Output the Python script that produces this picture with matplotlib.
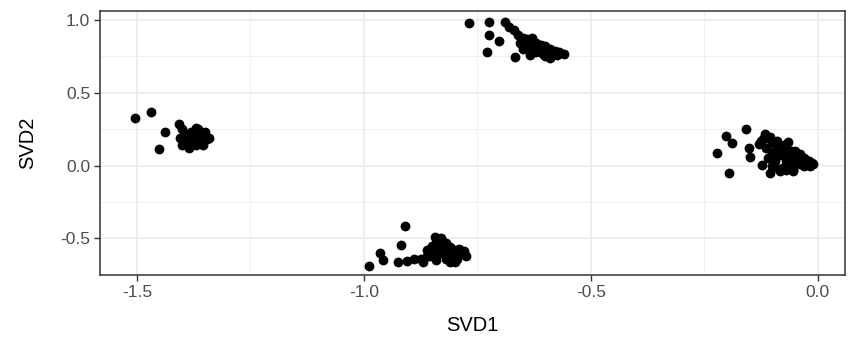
import matplotlib
matplotlib.use("Agg")
import matplotlib.pyplot as plt
import numpy as np

plt.rcParams['font.family'] = ['Liberation Sans', 'DejaVu Sans']

# cluster coordinates
left_x = [-1.505, -1.468, -1.438, -1.451, -1.407, -1.40, -1.395, -1.39, -1.385, -1.38, -1.375, -1.37,
          -1.365, -1.36, -1.355, -1.35, -1.345, -1.40, -1.385, -1.37, -1.36, -1.395, -1.38,
          -1.405, -1.39, -1.375, -1.365, -1.35, -1.34, -1.355, -1.37]
left_y = [0.324, 0.368, 0.23, 0.117, 0.287, 0.25, 0.21, 0.16, 0.13, 0.20, 0.17, 0.22,
          0.25, 0.19, 0.16, 0.20, 0.18, 0.14, 0.12, 0.14, 0.22, 0.19, 0.23,
          0.19, 0.18, 0.15, 0.17, 0.23, 0.19, 0.14, 0.26]

bottom_x = [-0.988, -0.965, -0.957, -0.910, -0.918, -0.925, -0.905, -0.89, -0.875, -0.86, -0.85, -0.844,
            -0.83, -0.82, -0.81, -0.80, -0.79, -0.78, -0.85, -0.84, -0.82, -0.80, -0.785, -0.86,
            -0.83, -0.81, -0.795, -0.87, -0.835, -0.815, -0.80, -0.855, -0.775, -0.84, -0.825]
bottom_y = [-0.687, -0.598, -0.648, -0.418, -0.545, -0.665, -0.655, -0.645, -0.64, -0.62, -0.55, -0.49,
            -0.50, -0.53, -0.56, -0.58, -0.57, -0.59, -0.60, -0.65, -0.64, -0.62, -0.60, -0.58,
            -0.60, -0.66, -0.64, -0.66, -0.57, -0.60, -0.66, -0.62, -0.62, -0.53, -0.55]

top_x = [-0.768, -0.724, -0.724, -0.728, -0.702, -0.689, -0.68, -0.67, -0.66, -0.65, -0.64, -0.63,
         -0.62, -0.61, -0.60, -0.59, -0.58, -0.57, -0.56, -0.667, -0.59, -0.65, -0.635, -0.62,
         -0.60, -0.64, -0.61, -0.655, -0.625, -0.605, -0.585, -0.645, -0.63, -0.575]
top_y = [0.977, 0.99, 0.90, 0.784, 0.857, 0.99, 0.95, 0.93, 0.90, 0.88, 0.87, 0.85,
         0.84, 0.83, 0.82, 0.80, 0.79, 0.78, 0.77, 0.745, 0.74, 0.80, 0.76, 0.78,
         0.75, 0.82, 0.80, 0.84, 0.81, 0.77, 0.76, 0.86, 0.88, 0.76]

right_x = [-0.159, -0.203, -0.19, -0.222, -0.195, -0.151, -0.15, -0.117, -0.125, -0.11, -0.10, -0.09,
           -0.08, -0.07, -0.06, -0.05, -0.04, -0.03, -0.02, -0.01, -0.124, -0.106, -0.084, -0.055,
           -0.018, -0.10, -0.085, -0.07, -0.06, -0.045, -0.03, -0.115, -0.095, -0.075, -0.05,
           -0.035, -0.02, -0.13, -0.105, -0.09, -0.075, -0.065, -0.11, -0.095, -0.08, -0.065,
           -0.05, -0.04, -0.12, -0.1, -0.085, -0.07, -0.055, -0.04, -0.025, -0.012]
right_y = [0.255, 0.202, 0.156, 0.087, -0.05, 0.122, 0.057, 0.218, 0.17, 0.19, 0.16, 0.15,
           0.13, 0.12, 0.10, 0.08, 0.06, 0.05, 0.03, 0.01, 0.007, -0.05, -0.04, -0.04,
           0.0, 0.09, 0.07, 0.04, 0.01, 0.02, 0.0, 0.12, 0.03, -0.01, 0.06, 0.03, 0.02, 0.15,
           0.20, 0.17, 0.14, 0.16, 0.05, 0.11, 0.10, 0.08, 0.10, 0.08, 0.18, 0.0, -0.02, -0.03,
           -0.03, 0.01, 0.04, 0.02]

x_ticks = [-1.5, -1.0, -0.5, 0.0]
x_labels = ["-1.5", "-1.0", "-0.5", "0.0"]
y_ticks = [-0.5, 0.0, 0.5, 1.0]
y_labels = ["-0.5", "0.0", "0.5", "1.0"]

svd1 = np.concatenate([left_x, bottom_x, top_x, right_x])
svd2 = np.concatenate([left_y, bottom_y, top_y, right_y])

fig = plt.figure(figsize=(8.48, 3.46), dpi=100)
ax = fig.add_axes([0.118, 0.205, 0.878, 0.763])

ax.set_xlim(-1.581, 0.059)
ax.set_ylim(-0.752, 1.062)

ax.set_xticks(x_ticks)
ax.set_xticklabels(x_labels)
ax.set_yticks(y_ticks)
ax.set_yticklabels(y_labels)
ax.set_xticks([-1.25, -0.75, -0.25], minor=True)
ax.set_yticks([-0.25, 0.25, 0.75], minor=True)

ax.grid(which='major', color='#ebebeb', linewidth=1.2)
ax.grid(which='minor', color='#f0f0f0', linewidth=0.7)
ax.set_axisbelow(True)

ax.scatter(svd1, svd2, s=50, color='black', linewidths=0, zorder=3)

for sp in ax.spines.values():
    sp.set_color('#333333')
    sp.set_linewidth(1.1)

ax.tick_params(which='major', length=4, width=1, color='#333333', labelcolor='#4d4d4d',
               labelsize=12.5, pad=3)
ax.tick_params(which='minor', length=0)

ax.set_xlabel("SVD1", fontsize=14.5, color='black', labelpad=12)
ax.set_ylabel("SVD2", fontsize=14.5, color='black', labelpad=17)

fig.savefig("out.png", dpi=100)
